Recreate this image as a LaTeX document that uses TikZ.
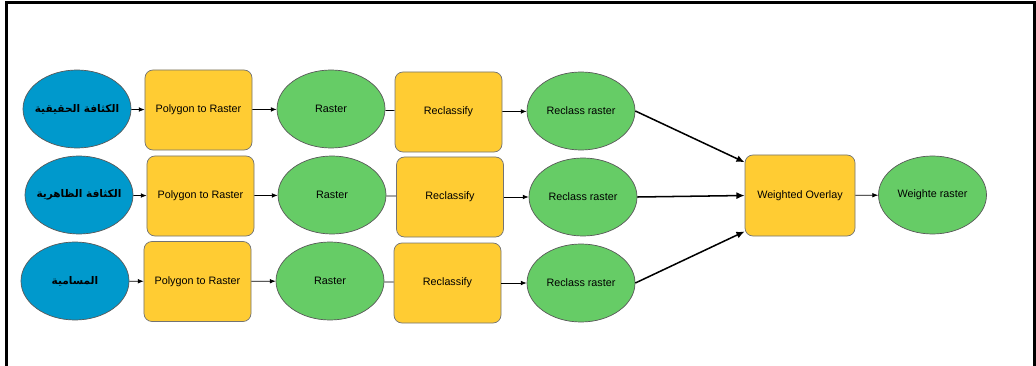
\documentclass[tikz,border=0pt]{standalone}
\usepackage{fontspec}
\setmainfont{Liberation Sans}
\newfontfamily\arabicfont[Script=Arabic]{DejaVu Sans}
\TeXXeTstate=1
\usetikzlibrary{shapes.geometric,arrows.meta}
\definecolor{inblue}{HTML}{0099CC}
\definecolor{toolyellow}{HTML}{FFCC33}
\definecolor{outgreen}{HTML}{66CC66}
\begin{document}
\begin{tikzpicture}[x=0.03cm,y=-0.03cm,
    inp/.style={ellipse,draw=black!65,line width=0.6pt,fill=inblue,minimum width=3.24cm,minimum height=2.34cm,inner sep=-6pt,font=\arabicfont\bfseries\fontsize{9}{11}\selectfont},
    tool/.style={rectangle,rounded corners=0.24cm,draw=black!55,line width=0.6pt,fill=toolyellow,minimum width=3.21cm,minimum height=2.4cm,inner sep=0pt,font=\fontsize{9.2}{11}\selectfont},
    outp/.style={ellipse,draw=black!65,line width=0.6pt,fill=outgreen,minimum width=3.24cm,minimum height=2.34cm,inner sep=0pt,font=\fontsize{9.2}{11}\selectfont},
    flow/.style={-{Latex[length=5pt,width=4pt]},semithick},
    merge/.style={-{Latex[length=7pt,width=6pt]},line width=1.3pt}]
    \useasboundingbox (0,0) rectangle (1036,366);
    % frame, open at the bottom
    \draw[line width=0.09cm] (6.5,366) -- (6.5,2.5) -- (1034.5,2.5) -- (1034.5,366);
    % first row
    \node[inp] (in1) at (77,109) {\beginR الكثافة الحقيقية\endR};
    \node[tool] (pr1) at (198.5,110) {Polygon to Raster};
    \node[outp] (ra1) at (331,109) {Raster};
    \node[tool] (rc1) at (448.5,112) {Reclassify};
    \node[outp] (rr1) at (581,111) {Reclass raster};
    % second row
    \node[inp] (in2) at (79,195) {\beginR الكثافة الظاهرية\endR};
    \node[tool] (pr2) at (200.5,196) {Polygon to Raster};
    \node[outp] (ra2) at (332,195) {Raster};
    \node[tool] (rc2) at (450,197) {Reclassify};
    \node[outp] (rr2) at (583,197) {Reclass raster};
    % third row
    \node[inp] (in3) at (75,281) {\beginR المسامية\endR};
    \node[tool] (pr3) at (197.5,281.5) {Polygon to Raster};
    \node[outp] (ra3) at (330,281) {Raster};
    \node[tool] (rc3) at (447.5,283) {Reclassify};
    \node[outp] (rr3) at (581,283) {Reclass raster};
    % overlay
    \node[tool,minimum width=3.3cm,minimum height=2.43cm] (wo) at (800,195.5) {Weighted Overlay};
    \node[outp] (wr) at (932.5,195) {Weighte raster};
    \foreach \r in {1,2,3}{
      \draw[flow] (in\r) -- (pr\r);
      \draw[flow] (pr\r) -- (ra\r);
      \draw[semithick] (ra\r) -- (rc\r);
      \draw[flow] (rc\r) -- (rr\r);
    }
    \draw[merge] (rr1.east) -- (wo.149);
    \draw[merge] (rr2.east) -- (wo.west);
    \draw[merge] (rr3.east) -- (wo.213);
    \draw[flow] (wo) -- (wr);
\end{tikzpicture}
\end{document}
